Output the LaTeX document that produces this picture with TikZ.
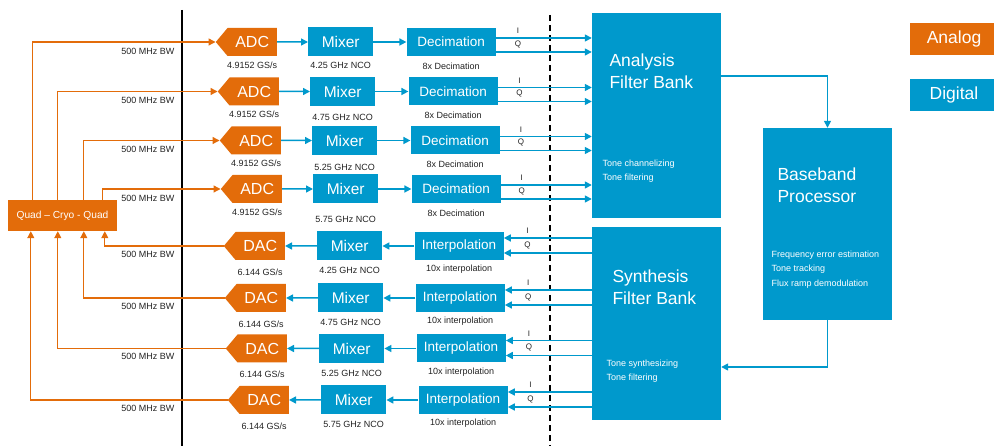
\documentclass[tikz,border=0pt]{standalone}
\usepackage{fontspec}
\setmainfont{Liberation Sans}
\usetikzlibrary{arrows.meta,positioning,shapes.symbols}
\definecolor{analog}{HTML}{E36C0A}
\definecolor{digital}{HTML}{0099CC}
\definecolor{ink}{HTML}{222222}

\begin{document}
\begin{tikzpicture}[x=1pt,y=-1pt,>={Triangle[length=7pt,width=7pt]},
 conv/.style={shape=signal,signal to=west,signal pointer angle=100,fill=analog,text=white,
   minimum width=61pt,minimum height=28pt,inner sep=0pt,font=\fontsize{16}{19}\selectfont},
 blk/.style={fill=digital,text=white,inner sep=0pt,minimum height=29pt},
 mix/.style={blk,minimum width=65pt,font=\fontsize{15.5}{18}\selectfont},
 rate/.style={blk,minimum width=89pt,minimum height=28pt,font=\fontsize{13.5}{16}\selectfont},
 bank/.style={fill=digital,inner sep=0pt,minimum width=129pt},
 big/.style={text=white,align=left,anchor=west,font=\fontsize{17.5}{22}\selectfont},
 note/.style={text=white,align=left,anchor=west,font=\fontsize{9}{14.5}\selectfont},
 key/.style={text=white,minimum width=88pt,minimum height=32pt,font=\fontsize{17.5}{20}\selectfont},
 tag/.style={text=ink,font=\fontsize{9}{11}\selectfont},
 iq/.style={text=ink,font=\fontsize{8}{10}\selectfont},
 aline/.style={->,draw=analog,line width=1.2pt},
 dline/.style={->,draw=digital,line width=1.5pt}]
 \useasboundingbox (0,0) rectangle (994,446);
 % room boundaries
 \draw[line width=1.5pt] (182,10) -- (182,446);
 \draw[line width=1.5pt,dash pattern=on 6pt off 4pt] (550,15) -- (550,446);
 \node[fill=analog,text=white,minimum width=109pt,minimum height=31pt,inner sep=0pt,
   font=\fontsize{10.2}{12}\selectfont] (quad) at (62.5,215.5) {Quad – Cryo - Quad};
 % banks
 \node[bank,minimum height=205pt] (afb) at (656.5,115.5) {};
 \node[bank,minimum height=193pt] (sfb) at (656.5,323.5) {};
 \node[bank,minimum height=192pt] (bbp) at (827.5,224) {};
 \node[big] (afbt) at (606,71) {Analysis\\Filter Bank};
 \node[note] (afbn) at (599,171) {Tone channelizing\\Tone filtering};
 \node[big] (sfbt) at (609,287.5) {Synthesis\\Filter Bank};
 \node[note] (sfbn) at (603,371) {Tone synthesizing\\Tone filtering};
 \node[big] (bbpt) at (774,185) {Baseband\\Processor};
 \node[note] (bbpn) at (768,269.5) {Frequency error estimation\\Tone tracking\\Flux ramp demodulation};
 \draw[dline] ([yshift=39.5pt]afb.east) -| (bbp.north);
 \draw[dline] (bbp.south) |- ([yshift=-43.5pt]sfb.east);
 % legend
 \node[key,fill=analog] (analog) at (954,39) {Analog};
 \node[key,fill=digital] (digital) at (954,95) {Digital};
 % receive chains
 \foreach \n/\cy/\dx/\gap/\qx/\nco in {1/42/0/2pt/25pt/4.25,2/91.5/2/4pt/50pt/4.75,3/140.5/4/5pt/76pt/5.25,4/189/5/9pt/95pt/5.75}{
  \node[conv,anchor=east] (adc\n) at (277+\dx,\cy) {ADC};
  \node[mix,right=31pt of adc\n] (mixa\n) {Mixer};
  \node[rate,right=33pt of mixa\n] (dec\n) {Decimation};
  \node[tag,below=2pt of adc\n] {4.9152 GS/s};
  \node[tag,below=\gap of mixa\n] {\nco\ GHz NCO};
  \node[tag,below=3pt of dec\n] {8x Decimation};
  \draw[dline] (adc\n) -- (mixa\n);
  \draw[dline] (mixa\n) -- (dec\n);
  \draw[dline] ([yshift=4pt]dec\n.east) -- node[iq,above,pos=.23]{I} ([yshift=4pt]dec\n.east -| afb.west);
  \draw[dline] ([yshift=-10pt]dec\n.east) -- node[iq,above,pos=.23]{Q} ([yshift=-10pt]dec\n.east -| afb.west);
  \draw[aline] ([xshift=\qx]quad.north west) |- (adc\n.west);
  \node[tag,anchor=east] at (178,\cy+9) {500 MHz BW};
 }
 % transmit chains
 \foreach \n/\cy/\dx/\qx/\nco in {1/246/9/97pt/4.25,2/298/10/76pt/4.75,3/348.5/11/50pt/5.25,4/400/13/23pt/5.75}{
  \node[conv,anchor=east] (dac\n) at (276+\dx,\cy) {DAC};
  \node[mix,right=32pt of dac\n] (mixs\n) {Mixer};
  \node[rate,right=32pt of mixs\n] (int\n) {Interpolation};
  \node[tag,below=5pt of dac\n] {6.144 GS/s};
  \node[tag,below=3pt of mixs\n] {\nco\ GHz NCO};
  \node[tag,below=1.5pt of int\n] {10x interpolation};
  \draw[dline] (int\n) -- (mixs\n);
  \draw[dline] (mixs\n) -- (dac\n);
  \draw[dline] ([yshift=8pt]int\n.east -| sfb.west) -- node[iq,above,pos=.73]{I} ([yshift=8pt]int\n.east);
  \draw[dline] ([yshift=-7pt]int\n.east -| sfb.west) -- node[iq,above,pos=.73]{Q} ([yshift=-7pt]int\n.east);
  \draw[aline] (dac\n.west) -| ([xshift=\qx]quad.south west);
  \node[tag,anchor=east] at (178,\cy+8) {500 MHz BW};
 }
\end{tikzpicture}
\end{document}
